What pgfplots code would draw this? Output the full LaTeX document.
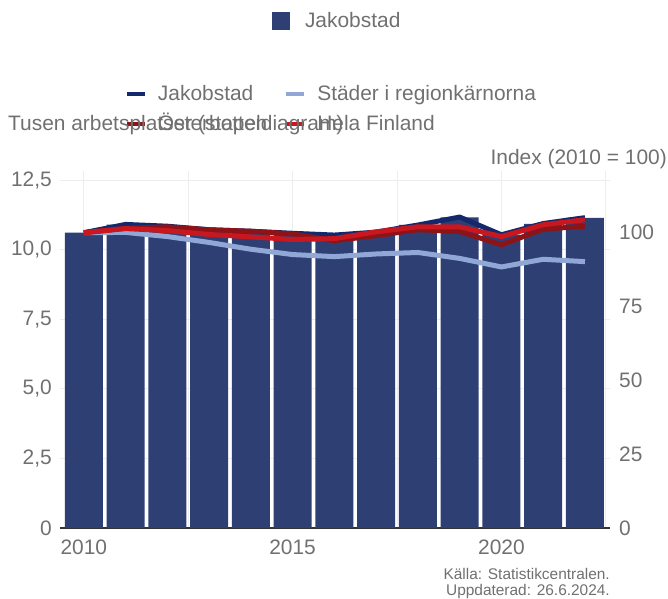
\documentclass[border=0pt]{standalone}
\usepackage{fontspec}
\setmainfont{Liberation Sans}
\usepackage{pgfplots}
\usepackage{pgfplotstable}
\pgfplotsset{compat=1.18}
\definecolor{barnavy}{HTML}{2E3F74}
\definecolor{navyline}{HTML}{14296B}
\definecolor{lightblue}{HTML}{91A8D6}
\definecolor{darkred}{HTML}{8C1418}
\definecolor{finred}{HTML}{C8171E}
\definecolor{txt}{HTML}{707070}
\definecolor{gridc}{HTML}{EDEDED}
\definecolor{axisc}{HTML}{333333}

\pgfplotstableread{
year bar jak stad oster fin
2010 10.62 100.0 100.0 100.0 100.0
2011 10.91 102.8 100.1 101.5 101.4
2012 10.85 102.2 98.7 102.0 100.7
2013 10.73 101.0 96.7 101.0 99.4
2014 10.67 100.5 94.4 100.5 98.6
2015 10.60 99.8 92.6 99.6 97.7
2016 10.53 99.2 91.9 97.3 98.0
2017 10.64 100.2 92.8 99.0 100.3
2018 10.90 102.6 93.3 101.0 102.0
2019 11.17 105.3 91.3 100.4 102.0
2020 10.55 99.3 88.4 95.9 98.7
2021 10.94 103.1 91.0 101.2 102.7
2022 11.15 105.1 90.2 102.2 104.4
}\data

\newcommand{\bigf}{\fontsize{21}{24}\selectfont}

\begin{document}
\begin{tikzpicture}[x=1bp,y=1bp]
\useasboundingbox (-60,-71) rectangle (608,528);
\begin{axis}[
  at={(0,0)}, anchor=south west,
  width=550bp, height=357bp, scale only axis,
  xmin=2009.43, xmax=2022.6, ymin=0, ymax=12.84,
  axis x line*=bottom, axis y line*=left,
  x axis line style={draw=axisc, line width=1.5bp, -},
  y axis line style={draw=none},
  xtick={2010,2012.5,2015,2017.5,2020,2022.5},
  xticklabels={2010,,2015,,2020,},
  ytick={0,2.5,5,7.5,10,12.5},
  yticklabels={0,{2,5},{5,0},{7,5},{10,0},{12,5}},
  major tick length=0pt,
  grid=major, major grid style={draw=gridc, line width=1bp},
  tick label style={font=\bigf, text=txt},
  xticklabel style={anchor=north, inner sep=0pt, yshift=-12bp},
  yticklabel style={anchor=east, inner sep=0pt, xshift=-8bp},
  ybar, bar width=0.91,
  legend style={draw=none, fill=none, inner sep=0pt, outer sep=0pt,
    at={(0.3855,1.4454)}, anchor=north west, font=\bigf, text=txt,
    nodes={inner sep=0pt, outer sep=0pt, text height=16bp, text depth=2bp},
    /tikz/every odd column/.append style={column sep=15bp}},
  legend cell align=left,
  legend image code/.code={\fill[#1, draw=none] (0bp,-9bp) rectangle (18bp,9bp);},
]
\addplot[fill=barnavy, draw=none] table[x=year, y=bar] {\data};
\addlegendentry{Jakobstad}
\end{axis}

\begin{axis}[
  at={(0,0)}, anchor=south west,
  width=550bp, height=357bp, scale only axis,
  xmin=2009.43, xmax=2022.6, ymin=0, ymax=120.9,
  axis x line=none, axis y line*=right,
  y axis line style={draw=none},
  ytick={0,25,50,75,100},
  yticklabels={0,25,50,75,100},
  major tick length=0pt,
  tick label style={font=\bigf, text=txt},
  yticklabel style={anchor=west, inner sep=0pt, xshift=9bp},
  legend columns=2,
  legend style={draw=none, fill=none, inner sep=0pt, outer sep=0pt,
    at={(0.1218,1.2409)}, anchor=north west, font=\bigf, text=txt,
    nodes={inner sep=0pt, outer sep=0pt, text height=16bp, text depth=2bp},
    /tikz/every odd column/.append style={column sep=13bp},
    /tikz/every even column/.append style={column sep=19bp},
    /tikz/row sep=12bp},
  legend cell align=left,
  legend image code/.code={\fill[#1, draw=none] (0bp,-2bp) rectangle (18bp,2bp);},
]
\addplot[color=navyline, line width=5bp, line join=round] table[x=year, y=jak] {\data};
\addlegendentry{Jakobstad}
\addplot[color=lightblue, line width=5bp, line join=round] table[x=year, y=stad] {\data};
\addlegendentry{Städer i regionkärnorna}
\addplot[color=darkred, line width=5bp, line join=round] table[x=year, y=oster] {\data};
\addlegendentry{Österbotten}
\addplot[color=finred, line width=5bp, line join=round] table[x=year, y=fin] {\data};
\addlegendentry{Hela Finland}
\end{axis}

\node[anchor=base west, inner sep=0pt, font=\bigf, text=txt] at (-52,397) {Tusen arbetsplatser (stapeldiagram)};
\node[anchor=base east, inner sep=0pt, font=\bigf, text=txt] at (607,363) {Index (2010 = 100)};
\node[anchor=base east, inner sep=0pt, font=\fontsize{15.5}{18}\selectfont, text=txt] at (550,-52) {Källa: Statistikcentralen.};
\node[anchor=base east, inner sep=0pt, font=\fontsize{15.5}{18}\selectfont, text=txt] at (550,-68) {Uppdaterad: 26.6.2024.};
\end{tikzpicture}
\end{document}
